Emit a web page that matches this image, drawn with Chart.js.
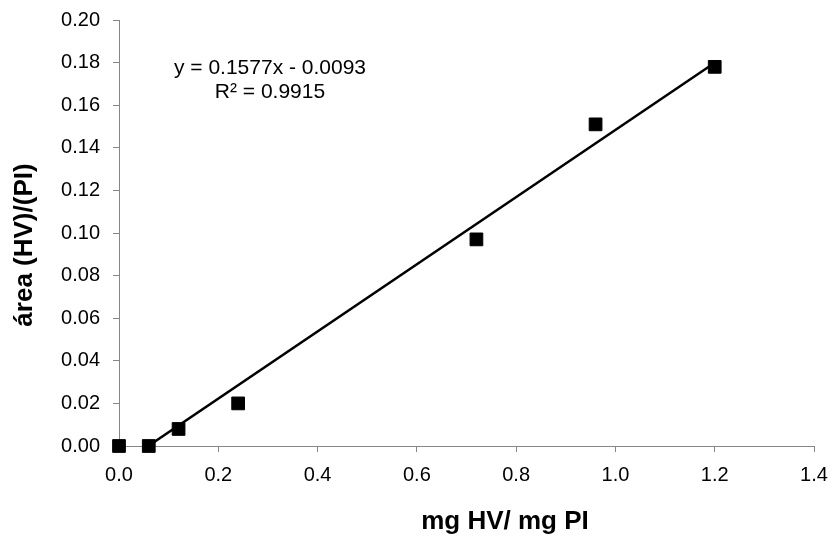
<!DOCTYPE html>
<html>
<head>
<meta charset="utf-8">
<script src="https://cdn.jsdelivr.net/npm/chart.js@4/dist/chart.umd.min.js"></script>
<style>
  html, body { margin: 0; padding: 0; background: #fff; }
  #wrap { width: 833px; height: 540px; position: relative; }
</style>
</head>
<body>
<div id="wrap"><canvas id="c" width="833" height="540"></canvas></div>
<script>
// ---- Data ----
const xValues = [0, 0.06, 0.12, 0.24, 0.72, 0.96, 1.2];
const yValues = [0, 0, 0.008, 0.020, 0.097, 0.151, 0.178];
const trendSlope = 0.1577;
const trendIntercept = -0.0093;
const trendRange = [0, 1.2];
const equationLines = ['y = 0.1577x - 0.0093', 'R\u00B2 = 0.9915'];
const xTickLabels = ['0.0', '0.2', '0.4', '0.6', '0.8', '1.0', '1.2', '1.4'];
const yTickLabels = ['0.00', '0.02', '0.04', '0.06', '0.08', '0.10', '0.12', '0.14', '0.16', '0.18', '0.20'];
const xTitle = 'mg HV/ mg PI';
const yTitle = '\u00E1rea (HV)/(PI)';

const points = xValues.map((x, i) => ({ x: x, y: yValues[i] }));
const trendPoints = trendRange.map(x => ({ x: x, y: trendSlope * x + trendIntercept }));

const FONT = "'Liberation Sans', Arial, sans-serif";
const AXIS = '#868686';

const textPlugin = {
  id: 'texts',
  afterDraw(chart) {
    const ctx = chart.ctx;
    const a = chart.chartArea;
    ctx.save();
    ctx.fillStyle = '#000';
    // trendline equation
    ctx.font = '21px ' + FONT;
    ctx.textAlign = 'center';
    ctx.textBaseline = 'middle';
    ctx.fillText(equationLines[0], a.left + 151, a.top + 48);
    ctx.fillText(equationLines[1], a.left + 151, a.top + 72.5);
    // axis titles
    ctx.font = 'bold 26px ' + FONT;
    ctx.fillText(xTitle, 505, chart.height - 18);
    ctx.translate(25, 245);
    ctx.rotate(-Math.PI / 2);
    ctx.fillText(yTitle, 0, 0);
    ctx.restore();
  }
};

new Chart(document.getElementById('c'), {
  type: 'scatter',
  data: {
    datasets: [
      {
        label: 'data',
        data: points,
        pointStyle: 'rect',
        pointRadius: 9,
        pointHoverRadius: 9,
        backgroundColor: '#000',
        borderColor: '#000',
        borderWidth: 1,
        clip: false,
        order: 0
      },
      {
        type: 'line',
        label: 'trend',
        data: trendPoints,
        borderColor: '#000',
        borderWidth: 2.5,
        pointRadius: 0,
        fill: false,
        tension: 0,
        order: 1
      }
    ]
  },
  options: {
    responsive: false,
    devicePixelRatio: 1,
    animation: false,
    layout: { padding: { top: 20, right: 19, bottom: 0, left: 0 } },
    plugins: {
      legend: { display: false },
      tooltip: { enabled: false }
    },
    scales: {
      x: {
        type: 'linear',
        min: 0, max: 1.4,
        afterFit(s) { s.height = 94; s.paddingLeft = 0; s.paddingRight = 0; },
        border: { display: true, color: AXIS, width: 1 },
        grid: { display: true, drawOnChartArea: false, drawTicks: true, tickLength: 6, color: AXIS },
        ticks: {
          stepSize: 0.2,
          color: '#000',
          padding: 11,
          maxRotation: 0,
          font: { family: FONT, size: 20 },
          callback: (v, i) => xTickLabels[i]
        },
        title: { display: false }
      },
      y: {
        type: 'linear',
        min: 0, max: 0.2,
        afterFit(s) { s.width = 119; s.paddingTop = 0; s.paddingBottom = 0; },
        border: { display: true, color: AXIS, width: 1 },
        grid: { display: true, drawOnChartArea: false, drawTicks: true, tickLength: 6, color: AXIS },
        ticks: {
          stepSize: 0.02,
          color: '#000',
          padding: 13,
          font: { family: FONT, size: 20 },
          callback: (v, i) => yTickLabels[i]
        },
        title: { display: false }
      }
    }
  },
  plugins: [textPlugin]
});
</script>
</body>
</html>
